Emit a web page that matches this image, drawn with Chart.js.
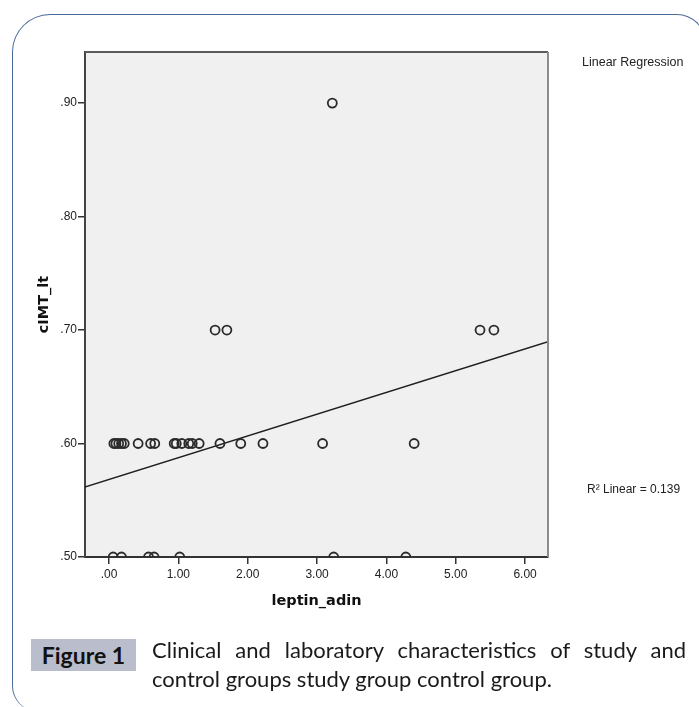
<!DOCTYPE html>
<html>
<head>
<meta charset="utf-8">
<script src="https://cdn.jsdelivr.net/npm/chart.js@4"></script>
<style>
  html, body { margin:0; padding:0; width:699px; height:707px; overflow:hidden; background:#fff; }
  #frame { position:absolute; left:12px; top:14px; width:694px; height:697px;
    border:1.5px solid #4a6a9c; border-radius:38px 29px 0 25px; box-sizing:border-box; border-bottom:none; }
  #wrap { position:absolute; left:0; top:0; width:699px; height:707px; }
  .side { position:absolute; font-family:"Liberation Sans", Arial, sans-serif; color:#222; white-space:nowrap; }
  #figlab { position:absolute; left:31px; top:639px; width:105px; height:32px; background:#babdcb;
    font-family:Lato, "Noto Sans", sans-serif; font-weight:bold; font-size:23px; color:#111;
    line-height:32px; text-align:center; }
  .cap { position:absolute; left:152px; font-family:Lato, "Noto Sans", sans-serif; font-size:22px; color:#1a1a1a; white-space:nowrap; line-height:26px; }
  #cap1 { top:637px; width:534px; text-align:justify; text-align-last:justify; }
  #cap2 { top:666px; }
</style>
</head>
<body>
<div id="frame"></div>
<div id="wrap"><canvas id="c" width="699" height="707"></canvas></div>
<div class="side" id="lr" style="left:582px; top:55px; font-size:12.5px;">Linear Regression</div>
<div class="side" id="r2" style="left:587px; top:482px; font-size:12px;">R² Linear = 0.139</div>
<div id="figlab">Figure 1</div>
<div class="cap" id="cap1">Clinical and laboratory characteristics of study and</div>
<div class="cap" id="cap2">control groups study group control group.</div>
<script>
// ---- data ----
const leptinAdin = [
  0.07, 0.10, 0.14, 0.18, 0.22, 0.42, 0.60, 0.66, 0.94, 0.97, 1.05, 1.15, 1.20, 1.30, 1.60, 1.90, 2.22, 3.08, 4.40,
  1.53, 1.70, 5.35, 5.55,
  3.22,
  0.06, 0.18, 0.57, 0.65, 1.02, 3.24, 4.28
];
const cimtLt = [
  0.60, 0.60, 0.60, 0.60, 0.60, 0.60, 0.60, 0.60, 0.60, 0.60, 0.60, 0.60, 0.60, 0.60, 0.60, 0.60, 0.60, 0.60, 0.60,
  0.70, 0.70, 0.70, 0.70,
  0.90,
  0.50, 0.50, 0.50, 0.50, 0.50, 0.50, 0.50
];
const fitX = [-0.35, 6.33];
const fitY = [0.5617, 0.6897];
const xTickValues = [0, 1, 2, 3, 4, 5, 6];
const xTickLabels = ['.00', '1.00', '2.00', '3.00', '4.00', '5.00', '6.00'];
const yTickValues = [0.5, 0.6, 0.7, 0.8, 0.9];
const yTickLabels = ['.50', '.60', '.70', '.80', '.90'];
const xRange = [-0.346, 6.33];
const yRange = [0.5, 0.945];

const points = leptinAdin.map((x, i) => ({ x: x, y: cimtLt[i] }));
const fitLine = fitX.map((x, i) => ({ x: x, y: fitY[i] }));

const plotBg = {
  id: 'plotBg',
  beforeDraw(chart) {
    const { ctx, chartArea: a } = chart;
    ctx.save();
    ctx.fillStyle = '#f0f0f0';
    ctx.fillRect(a.left, a.top, a.right - a.left, a.bottom - a.top);
    ctx.restore();
  },
  afterDraw(chart) {
    const { ctx, chartArea: a } = chart;
    ctx.save();
    ctx.lineWidth = 2;
    ctx.strokeStyle = '#5a5a5a';
    ctx.beginPath(); ctx.moveTo(a.left, a.top); ctx.lineTo(a.right, a.top); ctx.stroke();
    ctx.strokeStyle = '#8c8c8c';
    ctx.beginPath(); ctx.moveTo(a.right, a.top); ctx.lineTo(a.right, a.bottom); ctx.stroke();
    ctx.restore();
  }
};

const tickFont = { family: '"Liberation Sans", Arial, sans-serif', size: 12 };
const titleFont = { family: '"DejaVu Sans", sans-serif', size: 14.5, weight: 'bold' };

new Chart(document.getElementById('c'), {
  data: {
    datasets: [
      {
        type: 'scatter',
        data: points,
        pointStyle: 'circle',
        pointRadius: 4.5,
        pointBorderWidth: 1.8,
        borderColor: '#2a2a2a',
        backgroundColor: 'rgba(0,0,0,0)',
        pointBackgroundColor: 'rgba(0,0,0,0)',
        pointBorderColor: '#2a2a2a',
        clip: 0,
        order: 1
      },
      {
        type: 'line',
        data: fitLine,
        borderColor: '#1e1e1e',
        borderWidth: 1.4,
        pointRadius: 0,
        fill: false,
        clip: 0,
        order: 2
      }
    ]
  },
  options: {
    responsive: false,
    animation: false,
    events: [],
    layout: { padding: { left: 0, top: 52, right: 151, bottom: 0 } },
    plugins: { legend: { display: false }, tooltip: { enabled: false } },
    scales: {
      x: {
        type: 'linear',
        min: xRange[0], max: xRange[1],
        afterBuildTicks(s) { s.ticks = xTickValues.map(v => ({ value: v })); },
        afterFit(s) { s.height = 150; },
        ticks: {
          font: tickFont, color: '#222', padding: 3, maxRotation: 0, autoSkip: false,
          callback: (v, i) => xTickLabels[i]
        },
        grid: { drawOnChartArea: false, drawTicks: true, tickLength: 7, color: '#333', lineWidth: 1.5 },
        border: { display: true, color: '#333', width: 2 },
        title: { display: true, text: 'leptin_adin', font: titleFont, color: '#111', padding: { top: 0, bottom: 97 } }
      },
      y: {
        type: 'linear',
        min: yRange[0], max: yRange[1],
        afterBuildTicks(s) { s.ticks = yTickValues.map(v => ({ value: v })); },
        afterFit(s) { s.width = 85; },
        ticks: {
          font: tickFont, color: '#222', padding: 1, autoSkip: false,
          callback: (v, i) => yTickLabels[i]
        },
        grid: { drawOnChartArea: false, drawTicks: true, tickLength: 7, color: '#333', lineWidth: 1.5 },
        border: { display: true, color: '#444', width: 2 },
        title: { display: true, text: 'cIMT_lt', font: titleFont, color: '#111', padding: { top: 36, bottom: 0 } }
      }
    }
  },
  plugins: [plotBg]
});
</script>
</body>
</html>
